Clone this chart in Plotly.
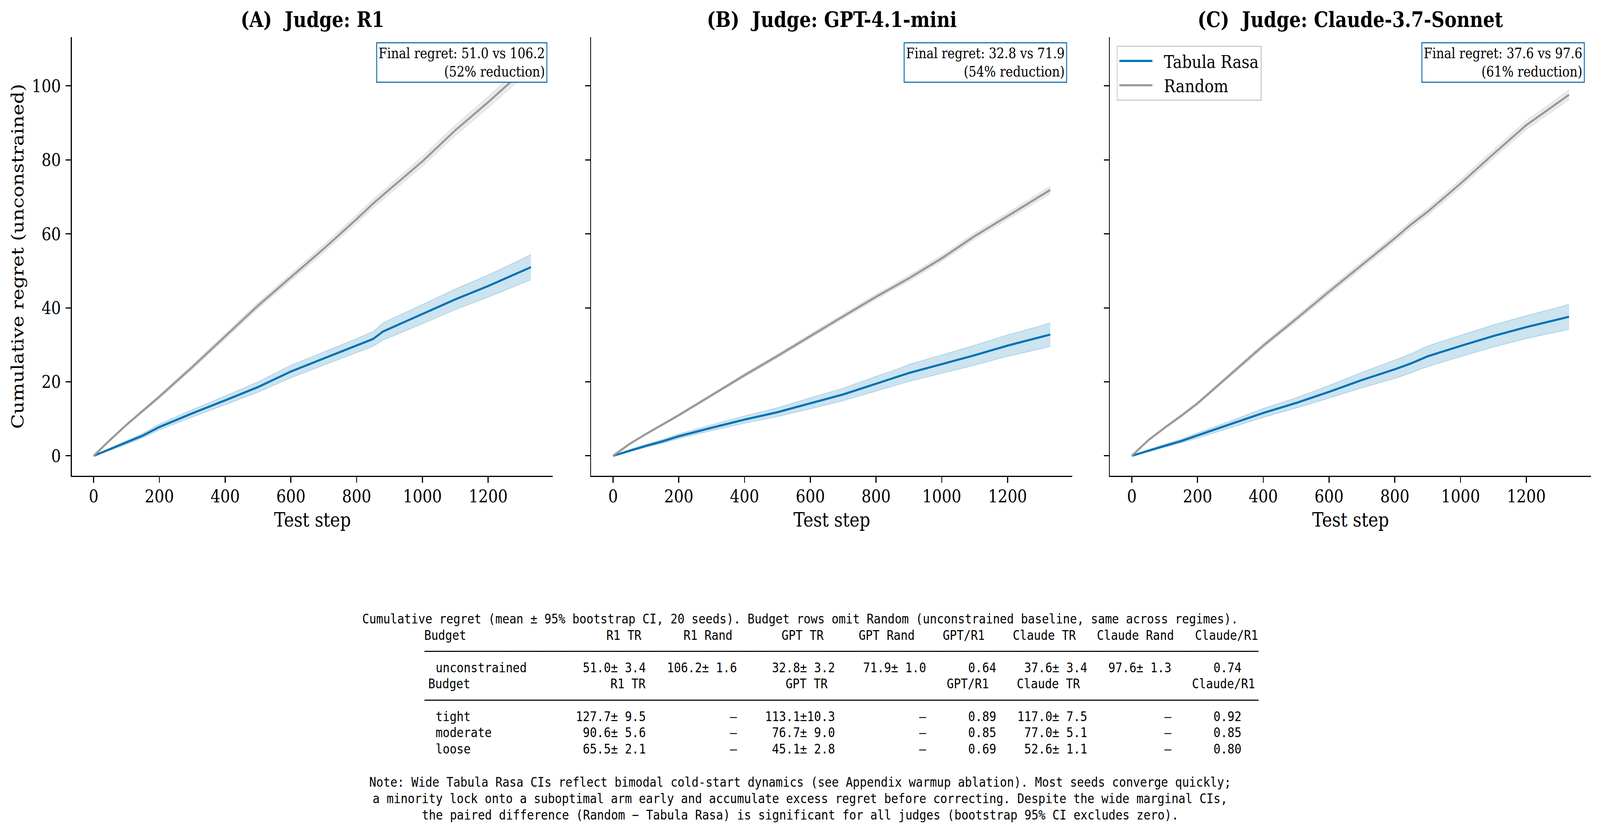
import numpy as np
import plotly.graph_objects as go

W, H = 4747, 2135

# ---------------- data ----------------
steps = [0, 50, 100, 150, 200, 300, 400, 500, 600, 700, 800, 850, 880, 900, 1000, 1100, 1200, 1300, 1330]

r1_tr = [0, 1.8, 3.6, 5.5, 7.8, 11.5, 15.0, 18.6, 22.8, 26.3, 29.8, 31.6, 33.6, 34.4, 38.3, 42.3, 45.9, 49.8, 51.0]
r1_tr_ci = [0, 0.3, 0.5, 0.6, 0.8, 1.0, 1.2, 1.4, 1.7, 1.8, 1.9, 2.0, 2.3, 2.4, 2.6, 2.8, 3.0, 3.3, 3.4]
r1_rand = [0, 4.3, 8.4, 12.2, 16.0, 24.0, 32.3, 40.6, 48.3, 56.0, 64.0, 68.2, 70.5, 72.0, 79.6, 88.0, 95.6, 103.6, 106.2]
r1_rand_ci = [0, 0.2, 0.3, 0.4, 0.5, 0.6, 0.7, 0.8, 0.9, 1.0, 1.1, 1.15, 1.2, 1.2, 1.3, 1.4, 1.5, 1.6, 1.6]

gpt_tr = [0, 1.4, 2.7, 3.9, 5.3, 7.6, 9.8, 11.8, 14.2, 16.6, 19.5, 20.9, 21.8, 22.4, 24.8, 27.2, 29.8, 32.0, 32.8]
gpt_tr_ci = [0, 0.3, 0.4, 0.5, 0.6, 0.8, 1.0, 1.2, 1.5, 1.7, 2.0, 2.1, 2.2, 2.3, 2.5, 2.7, 2.9, 3.1, 3.2]
gpt_rand = [0, 3.2, 5.9, 8.4, 11.0, 16.4, 21.8, 27.0, 32.4, 37.7, 43.0, 45.5, 47.0, 48.0, 53.4, 59.4, 64.8, 70.3, 71.9]
gpt_rand_ci = [0, 0.15, 0.2, 0.25, 0.3, 0.4, 0.45, 0.5, 0.55, 0.6, 0.7, 0.7, 0.75, 0.75, 0.8, 0.85, 0.9, 1.0, 1.0]

claude_tr = [0, 1.4, 2.7, 4.0, 5.5, 8.5, 11.6, 14.3, 17.3, 20.5, 23.4, 25.0, 26.2, 26.9, 29.7, 32.4, 34.8, 36.9, 37.6]
claude_tr_ci = [0, 0.3, 0.4, 0.5, 0.7, 0.9, 1.2, 1.4, 1.7, 2.1, 2.5, 2.6, 2.7, 2.8, 2.9, 3.0, 3.1, 3.3, 3.4]
claude_rand = [0, 4.2, 7.6, 10.8, 14.2, 22.0, 29.8, 37.0, 44.4, 51.6, 58.8, 62.6, 64.6, 66.0, 73.6, 81.6, 89.4, 95.7, 97.6]
claude_rand_ci = [0, 0.2, 0.3, 0.35, 0.4, 0.5, 0.6, 0.7, 0.8, 0.85, 0.9, 0.95, 1.0, 1.0, 1.05, 1.1, 1.2, 1.3, 1.3]

panel_titles = ["(A)  Judge: R1", "(B)  Judge: GPT-4.1-mini", "(C)  Judge: Claude-3.7-Sonnet"]
final_tr = [51.0, 32.8, 37.6]
final_rand = [106.2, 71.9, 97.6]

x_ticks = [0, 200, 400, 600, 800, 1000, 1200]
y_ticks = [0, 20, 40, 60, 80, 100]

# table values
budgets = ["unconstrained", "tight", "moderate", "loose"]
tab_r1_tr = [51.0, 127.7, 90.6, 65.5]
tab_r1_tr_ci = [3.4, 9.5, 5.6, 2.1]
tab_r1_rand = [106.2]
tab_r1_rand_ci = [1.6]
tab_gpt_tr = [32.8, 113.1, 76.7, 45.1]
tab_gpt_tr_ci = [3.2, 10.3, 9.0, 2.8]
tab_gpt_rand = [71.9]
tab_gpt_rand_ci = [1.0]
tab_gpt_ratio = [0.64, 0.89, 0.85, 0.69]
tab_claude_tr = [37.6, 117.0, 77.0, 52.6]
tab_claude_tr_ci = [3.4, 7.5, 5.1, 1.1]
tab_claude_rand = [97.6]
tab_claude_rand_ci = [1.3]
tab_claude_ratio = [0.74, 0.92, 0.85, 0.80]

caption = ("Cumulative regret (mean ± 95% bootstrap CI, 20 seeds). "
           "Budget rows omit Random (unconstrained baseline, same across regimes).")
header_full = ["R1 TR", "R1 Rand", "GPT TR", "GPT Rand", "GPT/R1", "Claude TR", "Claude Rand", "Claude/R1"]
header_budget = ["R1 TR", "GPT TR", "GPT/R1", "Claude TR", "Claude/R1"]
notes = [
    "Note: Wide Tabula Rasa CIs reflect bimodal cold-start dynamics (see Appendix warmup ablation). Most seeds converge quickly;",
    "a minority lock onto a suboptimal arm early and accumulate excess regret before correcting. Despite the wide marginal CIs,",
    "the paired difference (Random − Tabula Rasa) is significant for all judges (bootstrap 95% CI excludes zero).",
]

# ---------------- styling ----------------
C_TR = "#0072B2"
C_RD = "#999999"
SERIF = "DejaVu Serif"
MONO = "DejaVu Sans Mono"

ax_px = [(213, 1640), (1754, 3181), (3293, 4720)]
y_top, y_bot = 95, 1218

fig = go.Figure()

panels = [
    (r1_tr, r1_tr_ci, r1_rand, r1_rand_ci),
    (gpt_tr, gpt_tr_ci, gpt_rand, gpt_rand_ci),
    (claude_tr, claude_tr_ci, claude_rand, claude_rand_ci),
]

x = np.array(steps, dtype=float)
ymax_all = 0
for i, (tr, trc, rd, rdc) in enumerate(panels):
    xa = "x" if i == 0 else f"x{i+1}"
    ya = "y" if i == 0 else f"y{i+1}"
    show = (i == 2)
    for mean, ci, col, fillc, edgec, name in [
        (tr, trc, C_TR, "rgba(0,114,178,0.2)", "rgba(0,114,178,0.22)", "Tabula Rasa"),
        (rd, rdc, C_RD, "rgba(153,153,153,0.2)", "rgba(153,153,153,0.22)", "Random"),
    ]:
        m = np.array(mean, dtype=float)
        c = np.array(ci, dtype=float)
        lo, hi = m - c, m + c
        ymax_all = max(ymax_all, hi.max())
        fig.add_trace(go.Scatter(x=x, y=lo, mode="lines", line=dict(color=edgec, width=2),
                                 showlegend=False, hoverinfo="skip", xaxis=xa, yaxis=ya))
        fig.add_trace(go.Scatter(x=x, y=hi, mode="lines", line=dict(color=edgec, width=2),
                                 fill="tonexty", fillcolor=fillc,
                                 showlegend=False, hoverinfo="skip", xaxis=xa, yaxis=ya))
        fig.add_trace(go.Scatter(x=x, y=m, mode="lines", line=dict(color=col, width=5.5),
                                 name="\u00a0\u00a0" + name, showlegend=show, xaxis=xa, yaxis=ya))

xpad = 0.05 * (x.max() - x.min())
xr = [x.min() - xpad, x.max() + xpad]
ypad = 0.05 * (ymax_all - 0)
yr = [0 - ypad, ymax_all + ypad]

axis_common = dict(showline=True, linecolor="black", linewidth=3, mirror=False,
                   ticks="outside", ticklen=15, tickwidth=3, tickcolor="black",
                   showgrid=False, zeroline=False,
                   tickfont=dict(family=SERIF, size=45.5, color="black"))

layout = dict(width=W, height=H, margin=dict(l=0, r=0, t=0, b=0),
              paper_bgcolor="white", plot_bgcolor="white", showlegend=True)
for i, (l, r) in enumerate(ax_px):
    xk = "xaxis" if i == 0 else f"xaxis{i+1}"
    yk = "yaxis" if i == 0 else f"yaxis{i+1}"
    layout[xk] = dict(domain=[l / W, r / W], range=xr, tickvals=x_ticks,
                      anchor="y" if i == 0 else f"y{i+1}", ticklabelstandoff=-5, **axis_common)
    layout[yk] = dict(domain=[1 - y_bot / H, 1 - y_top / H], range=yr, tickvals=y_ticks,
                      anchor="x" if i == 0 else f"x{i+1}", showticklabels=(i == 0),
                      ticklabelstandoff=5, **axis_common)
fig.update_layout(**layout)

fig.update_layout(legend=dict(x=3313 / W, y=1 - 117 / H, xanchor="left", yanchor="top",
                              bordercolor="#cccccc", borderwidth=3, bgcolor="rgba(255,255,255,0.85)",
                              font=dict(family=SERIF, size=45.5, color="black"),
                              itemwidth=98, tracegroupgap=0, traceorder="normal"))

ann = []
box_right = [1624, 3166, 4702]
for i, (l, r) in enumerate(ax_px):
    cx = (l + r) / 2
    ann.append(dict(text=f"<b>{panel_titles[i]}</b>", x=cx / W, y=1 - 50 / H, xref="paper", yref="paper",
                    xanchor="center", yanchor="middle", showarrow=False,
                    font=dict(family=SERIF, size=54, color="black")))
    ann.append(dict(text="Test step", x=cx / W, y=1 - 1331 / H, xref="paper", yref="paper",
                    xanchor="center", yanchor="middle", showarrow=False,
                    font=dict(family=SERIF, size=50, color="black")))
    red = round(100 * (1 - final_tr[i] / final_rand[i]))
    ann.append(dict(text=f"Final regret: {final_tr[i]:.1f} vs {final_rand[i]:.1f}<br>({red}% reduction)",
                    x=box_right[i] / W, y=1 - 108 / H, xref="paper", yref="paper",
                    xanchor="right", yanchor="top", align="right", showarrow=False,
                    bordercolor="#1f77b4", borderwidth=3, borderpad=4, bgcolor="white",
                    font=dict(family=SERIF, size=36.5, color="black")))
ann.append(dict(text="Cumulative regret (unconstrained)", x=52 / W, y=1 - 656 / H, xref="paper", yref="paper",
                xanchor="center", yanchor="middle", textangle=-90, showarrow=False,
                font=dict(family=SERIF, size=50, color="black")))


def fmt(m, c):
    return f"{m:.1f}±{c:4.1f}"


def build(first, cells, ends):
    s = first
    for cell, e in zip(cells, ends):
        pad = max(1, e - len(cell) - len(s))
        s += " " * pad + cell
    return s


hdr_ends = [31, 44, 57, 70, 80, 93, 107, 119]
row_ends = [30, 43, 57, 70, 80, 93, 105, 115]
hdr2_ends = [31, 57, 80, 93, 118]
DASH = "–"

lines = []  # (text, x_left or None for centered, y_center)
y0, dy = 1584, 41.6
lines.append((caption, None, y0))
lines.append((build("Budget", header_full, hdr_ends), 1257, y0 + dy))
lines.append(("─" * 119, 1257, y0 + 2 * dy))
row0 = [fmt(tab_r1_tr[0], tab_r1_tr_ci[0]), fmt(tab_r1_rand[0], tab_r1_rand_ci[0]),
        fmt(tab_gpt_tr[0], tab_gpt_tr_ci[0]), fmt(tab_gpt_rand[0], tab_gpt_rand_ci[0]),
        f"{tab_gpt_ratio[0]:.2f}", fmt(tab_claude_tr[0], tab_claude_tr_ci[0]),
        fmt(tab_claude_rand[0], tab_claude_rand_ci[0]), f"{tab_claude_ratio[0]:.2f}"]
lines.append((build(budgets[0], row0, row_ends), 1291, y0 + 3 * dy))
lines.append((build("Budget", header_budget, hdr2_ends), 1269, y0 + 4 * dy))
lines.append(("─" * 119, 1257, y0 + 5 * dy))
for k in range(1, 4):
    row = [fmt(tab_r1_tr[k], tab_r1_tr_ci[k]), DASH, fmt(tab_gpt_tr[k], tab_gpt_tr_ci[k]), DASH,
           f"{tab_gpt_ratio[k]:.2f}", fmt(tab_claude_tr[k], tab_claude_tr_ci[k]), DASH,
           f"{tab_claude_ratio[k]:.2f}"]
    lines.append((build(budgets[k], row, row_ends), 1291, y0 + (5 + k) * dy))
for k, t in enumerate(notes):
    lines.append((t, None, 2002 + 42 * k))

for text, xl, yc in lines:
    t = text.replace(" ", "\u00a0")
    if xl is None:
        ann.append(dict(text=t, x=0.5, y=1 - yc / H, xref="paper", yref="paper", xanchor="center",
                        yanchor="middle", showarrow=False, borderpad=0,
                        font=dict(family=MONO, size=34.55, color="black")))
    else:
        ann.append(dict(text=t, x=xl / W, y=1 - yc / H, xref="paper", yref="paper", xanchor="left",
                        yanchor="middle", showarrow=False, borderpad=0,
                        font=dict(family=MONO, size=34.55, color="black")))

fig.update_layout(annotations=ann)

post = (
    "document.body.style.margin='0';document.body.style.overflow='hidden';"
    "var gd=document.getElementById('{plot_id}');"
    "var sx=window.innerWidth/" + str(W) + ", sy=window.innerHeight/" + str(H) + ";"
    "gd.style.transformOrigin='0 0';gd.style.transform='scale('+sx+','+sy+')';"
)
fig.write_html("out.html", include_plotlyjs=True, full_html=True, post_script=post,
               config={"displayModeBar": False})
